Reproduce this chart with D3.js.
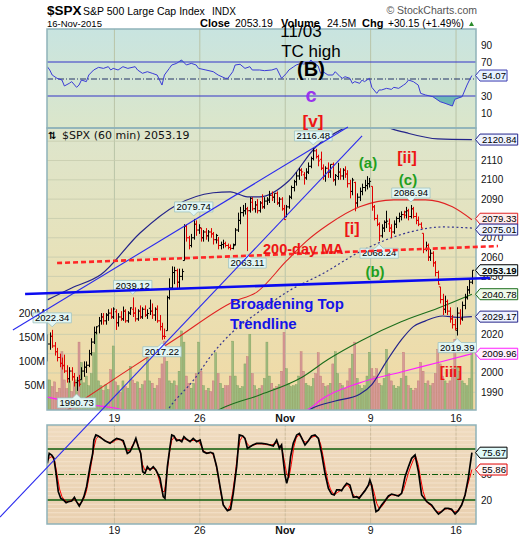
<!DOCTYPE html>
<html><head><meta charset="utf-8">
<script src="https://cdn.jsdelivr.net/npm/d3@7/dist/d3.min.js"></script>
<style>
html,body{margin:0;padding:0;background:#fff;}
svg{display:block;font-family:"Liberation Sans",Arial,sans-serif;}
</style></head><body>
<svg id="chart" width="520" height="540"></svg>
<script>
// ================= DATA =================
const xTickLabels = ["19","26","Nov","9","16"];
const xTickBars   = [28,63,98,133,168];   // first hourly bar of each labelled week
const priceTicks  = [1990,2000,2010,2020,2030,2040,2050,2060,2070,2080,2090,2100,2110,2120];
const volTicks    = [50,100,150,200];     // millions
const rsiTicks    = [10,30,50,70,90];
const stoTicks    = [20,50,80];

// hourly OHLC, 7 bars per session (13-Oct-2015 .. 16-Nov-2015)
const barOpen = [
 2013,2015,2019,2014,2011,2008,2005,
 2004,2001,1997,2001,1998,1995,1996,
 1996.5,2001,2003,2004,2010,2016,2021,
 2024.4,2027,2029,2027,2030,2031,2029,
 2031.7,2026,2029,2028,2032,2027,2031,
 2033,2031,2028,2032,2029,2033,2030,
 2033.5,2032,2030,2033,2027,2024,2019,
 2021.9,2039,2044,2052,2053,2047,2050,
 2058.2,2076,2070,2066,2070,2077,2074,
 2075,2070,2073,2071,2073,2072,2069,
 2068.8,2066,2066.5,2067,2066,2065,2064.5,
 2066.5,2074,2079,2083,2084,2085,2084,
 2088.4,2085,2087,2084,2088,2086,2089,
 2090,2092,2091,2093,2088,2090,2085,
 2080.8,2086,2091,2096,2099,2102,2105,
 2102.6,2101,2104,2107,2111,2115,2112,
 2110.6,2106,2102,2106,2104,2108,2100,
 2101.7,2104,2102,2105,2103,2098,2094,
 2098.6,2088,2091,2094,2096,2097,2098,
 2096.6,2086,2080,2077,2071,2075,2078,
 2077.2,2075,2073,2077,2080,2081,2082,
 2083.4,2084,2081,2085,2081,2079,2077,
 2072.3,2064,2066,2060,2062,2057,2052,
 2044.6,2038,2033,2037,2032,2028,2025,
 2022.1,2031,2028,2035,2039,2043,2047];
const barHigh = [
 2020,2021,2022.34,2016,2013,2010,2008,
 2009.5,2004,2003,2003,2000,1998,1999,
 2003,2006,2006,2012,2018,2024,2024.2,
 2029,2031,2031,2031,2033,2033.5,2034,
 2033,2031,2032,2034.4,2033,2032,2034,
 2039.12,2034,2033,2035,2034,2035,2033,
 2038,2036,2034,2035,2030,2026,2023,
 2040,2049,2055.2,2055,2054,2054,2054,
 2077,2077,2071,2072,2079.74,2079,2077,
 2075.1,2074,2075,2074,2075,2073,2072,
 2070.4,2068,2069,2068,2067,2066.5,2067,
 2075,2083,2086,2087,2088,2086,2091,
 2091,2089,2090,2089,2092.5,2091,2091,
 2094.3,2094,2093,2094,2091,2091,2087,
 2087,2092,2097,2100,2104,2106.2,2106,
 2104,2106,2109,2112,2116.48,2116,2113,
 2114.6,2108,2107,2109,2108,2109,2103,
 2108.8,2106,2106,2107,2105,2100,2101,
 2099,2093,2096,2098,2100,2101.9,2101,
 2096.6,2087,2082,2078,2077,2079,2084,
 2080,2077,2079,2081,2083,2083.7,2084,
 2086,2085,2086.94,2086,2083,2081,2078,
 2072.3,2068,2067,2064,2063,2058,2053,
 2044.6,2041,2040,2038,2034,2030,2028,
 2034,2033,2037,2041,2045,2049,2053.2];
const barLow = [
 2006,2012,2013,2009,2006,2003,2001.8,
 2000,1995,1995,1996,1993,1990.73,1993,
 1996.5,1998,2000,2003,2009,2015,2020,
 2020.5,2025,2025,2025,2027,2028,2028,
 2022.3,2024,2027,2027,2026,2026,2030,
 2029,2026.6,2027,2028,2028,2029,2028,
 2030,2028,2027,2026,2022,2017.22,2017.5,
 2021.9,2038,2043,2046,2044,2044,2048,
 2058.2,2068,2064,2065,2069,2071,2072,
 2068,2068,2069,2068,2070,2066.5,2067,
 2064,2064,2064.5,2065,2064,2063.5,2064,
 2066,2073,2077,2081,2082,2063.11,2083,
 2084,2083,2082.6,2083,2085,2085,2087,
 2088,2089,2088,2087,2086,2084,2079.3,
 2080.8,2085,2090,2094,2097,2100,2102,
 2097.5,2100,2103,2106,2110,2111,2107,
 2105,2100,2099,2101,2101,2099,2097,
 2100,2100,2100,2101,2096,2090.4,2092,
 2083.7,2086,2089,2092,2094,2095,2096,
 2084,2079,2076,2068.24,2070,2073,2075,
 2073,2069.9,2072,2075,2078,2079,2080,
 2080,2079,2080,2080,2077,2076,2074.9,
 2062,2063,2058,2058,2055,2050,2045.7,
 2036,2030,2031,2030,2026,2023,2022,
 2019.39,2025,2027,2033,2038,2041,2046];
const barClose = [
 2015,2019,2014,2011,2008,2005,2003.7,
 2001,1997,2001,1998,1995,1996,1994.2,
 2001,2003,2004,2010,2016,2021,2023.9,
 2027,2029,2027,2030,2031,2029,2033.1,
 2026,2029,2028,2032,2027,2031,2033.7,
 2031,2028,2032,2029,2033,2030,2030.8,
 2032,2030,2033,2027,2024,2019,2018.9,
 2039,2044,2052,2053,2047,2050,2052.5,
 2076,2070,2066,2070,2077,2074,2075.2,
 2070,2073,2071,2073,2072,2069,2071.2,
 2066,2066.5,2067,2066,2065,2064.5,2065.9,
 2074,2079,2083,2084,2085,2084,2090.4,
 2085,2087,2084,2088,2086,2089,2089.4,
 2092,2091,2093,2088,2090,2085,2079.4,
 2086,2091,2096,2099,2102,2105,2104.1,
 2101,2104,2107,2111,2115,2112,2109.8,
 2106,2102,2106,2104,2108,2100,2102.3,
 2104,2102,2105,2103,2098,2094,2099.9,
 2088,2091,2094,2096,2097,2098,2099.2,
 2086,2080,2077,2071,2075,2078,2078.6,
 2075,2073,2077,2080,2081,2082,2081.7,
 2084,2081,2085,2081,2079,2077,2075,
 2064,2066,2060,2062,2057,2052,2046,
 2038,2033,2037,2032,2028,2025,2023,
 2031,2028,2035,2039,2043,2047,2053.19];
// hourly volume, millions
const barVolume = [
 62,62,48,58,36,45,120,
 62,44,60,38,58,62,140,
 98,56,70,50,75,118,160,
 60,50,40,52,42,83,132,
 58,50,36,60,48,45,90,
 62,55,58,45,52,60,111,
 60,55,45,50,65,95,142,
 100,60,55,60,50,80,163,
 140,70,55,45,55,75,140,
 80,50,40,45,38,60,118,
 75,55,45,50,50,70,142,
 70,50,45,48,95,110,156,
 75,50,42,45,50,65,140,
 70,55,45,48,52,80,160,
 85,55,48,50,52,70,120,
 80,55,50,48,65,75,118,
 70,55,48,50,55,95,120,
 75,55,50,45,60,85,115,
 140,65,50,45,50,70,119,
 85,70,85,55,50,65,125,
 75,60,50,45,48,65,119,
 70,50,45,40,45,60,98,
 80,55,60,50,55,75,125,
 95,70,60,55,60,85,146,
 90,80,60,55,50,65,129];

// swing high/low labels: bar index and which end of the bar
const swingIdx  = [2,12,35,47,60,82,109,136,149,168];
const swingType = ["high","low","high","low","high","low","high","low","high","low"];

// overlays (bar index, value)
const upperBandIdx = [0,10,22,38,53,68,75,82,87,99,110,122,130,136,140,147,160,174];
const upperBandVal = [2037.8,2044,2051,2072.5,2087,2093.3,2093.8,2091.2,2091.2,2099.5,2117,2127,2131,2130,2127,2124.4,2121.2,2120.84];
const midBandIdx = [44,50,60,68,76,85,99,113,128,149,162,174];
const midBandVal = [1970,1982,1996.4,2010.4,2021.3,2030.1,2042.5,2051.5,2062.7,2073.1,2075.6,2075.01];
const lowerBandIdx = [100,109,118,128,133,139,145,150,155,162,168,174];
const lowerBandVal = [1974,1982,1985.5,1989,1994,2006,2017,2024,2027,2029.5,2028.8,2029.17];
const maRedIdx = [5,30,53,76,86,98,106,115,128,142,155,166,174];
const maRedVal = [1978,1999,2018,2036.8,2042,2058,2068,2076.7,2086,2089.6,2089.6,2086,2079.33];
const maGreenIdx = [66,72,87,104,115,129,145,160,174];
const maGreenVal = [1978,1982,1988.6,1997.5,2007,2017,2026.5,2033.5,2040.78];
const maPinkIdx = [0,13,27,45,70,95,108,112,128,145,161,174];
const maPinkVal = [1987.5,1984.4,1982,1977,1974,1977,1982,1986,1994.9,2000.5,2005.7,2009.96];

// RSI (upper panel)
const rsiIdx = [0,1,2,4,6,7,9,10,12,13,14,16,17,19,21,23,25,26,27,29,31,33,36,37,39,41,43,45,46,47,48,50,51,53,55,57,59,61,62,65,68,70,73,74,76,77,79,81,83,84,87,89,92,94,96,98,99,101,102,104,105,107,108,109,111,112,113,115,117,118,120,121,122,124,125,126,128,129,130,132,133,135,136,137,139,141,142,144,146,147,148,150,152,153,155,158,161,163,166,167,170,172,173,174];
const rsiVal = [64.5,60.6,54.7,50.8,48.8,41.8,44.9,46.9,40.2,42.9,48.8,46.9,54.7,60.6,63.7,62.5,64.5,60.6,62.5,60.6,64.5,62.5,64.5,60.6,56.7,58.6,56.7,54.7,48.8,42.9,54.7,62.5,66.5,68.4,72.4,66.5,68.4,66.5,62.5,60.6,58.6,54.7,50.8,50.8,58.6,66.5,67.3,62.5,64.5,60.6,60.6,59.8,60.6,62.5,50.8,56.7,60.6,64.5,66.5,68.4,67.6,68.4,72.4,69.2,65.3,56.7,58.6,54.7,54.7,58.6,52.7,50.8,52.7,50.8,44.9,46.9,44.9,48.8,46.9,50.8,40.2,33.1,37.1,37.1,39,37.8,40.2,39,42.9,44.9,48.8,46.9,42.9,33.1,31.2,29.2,23.3,21.4,18.2,26.1,29.2,42.9,48.8,54.07];

// Slow stochastic (lower panel): %K black, %D red
const stochKIdx = [0,0.8,1.8,2.7,3.6,4.5,5.5,6.6,7.7,8.6,10,11.1,12,13.1,14.1,15,16.1,17.5,18.6,19.1,19.9,20.9,22.3,23.6,25.7,27,28.4,29.8,31.1,32.8,33.9,35.2,36.3,37.3,38.3,39.1,40,41,42.1,43.4,44.5,46.2,47.5,48.2,49.2,50.3,51,51.9,53,54.1,55.1,56,57.1,58.5,59.8,61.2,62.6,63.9,65.3,66.9,68,69.4,70.8,72.1,73.8,75.1,76.2,77.6,78.7,80.1,81,82,83.1,84.2,85.8,87.8,89.9,92.6,94,95.1,96,97.4,98.1,98.8,99.7,100.8,102.2,103.3,104.6,105.6,107,108.3,109.7,111.1,112.4,113.8,115.2,116.5,117.6,118.6,119.7,120.6,121.6,122.7,124,125.4,126.8,127.8,128.8,130.2,131.6,132.2,132.9,133.6,134.7,135.7,137,138.4,139.8,141.1,142.5,143.9,145.2,146.6,148,149.3,150.7,152.1,153.4,155.5,157.5,158.9,160.3,161.6,163,164.3,165.7,167.1,168.4,169.8,171.2,172.5,174];
const stochKVal = [63.1,74.9,72.9,69,51.4,29.8,22,20,16.9,18,18.8,23.1,18,12.9,18,23.9,35.7,59.2,74.9,90.6,96.5,95.3,92.5,89.8,86.7,89.8,92.5,91.4,89.8,74.9,76.9,84.7,92.5,82.7,74.9,53.3,51.4,59.2,55.3,59.2,55.3,45.5,23.9,22,59.2,82.7,96.5,95.3,89.8,90.6,88.6,94.5,91.4,88.6,92.5,88.6,90.6,76.9,74.9,76.1,74.9,59.2,35.7,14.1,7.5,9,27.8,59.2,96.5,95.3,92.5,80.8,82.7,84.7,86.7,86.7,85.9,83.5,90.6,80.8,84.7,49.4,39.6,47.5,71,86.7,96.5,98.4,90.6,84.7,89.8,95.3,96.5,92.5,74.9,51.4,33.7,27,25.9,31.8,31.8,31,35.7,39.6,37.6,23.1,23.9,22,25.9,31,37.6,43.5,37.6,23.9,6.3,8.2,14.1,19.2,24.7,27,25.9,24.7,27.8,47.5,59.2,69,72.9,53.3,25.9,18,14.1,8.2,3.5,6.3,10.2,10.2,9,3.5,7.5,14.1,25.9,45.5,75.67];
const stochD = [
 66,70,71,66,50,33,24,20,18,18.5,
 20,20.5,18,15,17,22,30,45,62,80,
 92,95,94,91,89,88,88,88,90.5,91,
 91,88,82,78,79,85,89,86,78,62,
 55,56,57,57,57,52,42,30,30,50,
 75,90,94,92,90,91,92,91,90,90,
 90,90,89,84,78,76,75,76,73,64,
 48,30,16,10,8,14,30,50,75,90,
 95,92,86,83,84,85,86,86,86,85.5,
 85,85,85,86,87,85,82,68,52,46,
 62,82,93,96,95,89,88,90,93,94.5,
 95,93,86,72,56,42,33,28,27,29,
 31,33,36,38,34,28,24,23,24,27,
 31,35,38,38,28,16,10,12,16,21,
 24,26,26,25,26,27,32,42,52,60,
 67,71,62,45,30,21,16,14,11,8,
 6,6,7.5,9,10,9,7,6,7,11,
 16,24,35,45,55.86];

// hand-drawn trendlines: [bar index, price] end points
const lineBroadTop = [[-9.1,2040.9],[181.4,2049.2]];
const line200dMA   = [[4,2056.9],[184.7,2065.7]];
const lineWedgeUp  = [[-14.1,2022.25],[123.2,2127.3]];
const lineWedgeLo  = [[-19.4,1925.4],[129,2122.7]];

// ================= DRAWING =================
const svg = d3.select("#chart");
const defs = svg.append("defs");
const L = 47, R = 476;
const P = {top:[29,128], main:[128,410], bot:[425,524]};

const x  = d3.scaleLinear().domain([0,174]).range([47.3,471.9]);
const yP = d3.scaleLinear().domain([1990,2110]).range([392.3,160.5]);
const yV = d3.scaleLinear().domain([0,200]).range([410,313]);
const yR = d3.scaleLinear().domain([0,100]).range([121.5,36.5]);
const yS = d3.scaleLinear().domain([0,100]).range([517,432]);

function grad(id, stops){
  const g = defs.append("linearGradient").attr("id",id).attr("x1",0).attr("y1",0).attr("x2",0).attr("y2",1);
  stops.forEach(([o,c])=>g.append("stop").attr("offset",o).attr("stop-color",c));
}
grad("gTop",[[0,"#c8e4e0"],[1,"#dbe6ca"]]);
grad("gMain",[[0,"#dde5cc"],[0.45,"#e7e2ba"],[1,"#f1d9a3"]]);
grad("gBot",[[0,"#efdbbf"],[1,"#e9d0b0"]]);
function clip(id,k){ defs.append("clipPath").attr("id",id).append("rect").attr("x",L).attr("y",P[k][0]).attr("width",R-L).attr("height",P[k][1]-P[k][0]); }
clip("cTop","top"); clip("cMain","main"); clip("cBot","bot");

[["top","gTop"],["main","gMain"],["bot","gBot"]].forEach(([k,g])=>{
  svg.append("rect").attr("x",L).attr("y",P[k][0]).attr("width",R-L).attr("height",P[k][1]-P[k][0]).attr("fill",`url(#${g})`);
});

const gridX = xTickBars.map(b=>x(b)-1.22);
["top","main","bot"].forEach(k=>{
  svg.append("g").selectAll("line").data(gridX).join("line")
    .attr("x1",d=>d).attr("x2",d=>d).attr("y1",P[k][0]).attr("y2",P[k][1])
    .attr("stroke", k==="bot" ? "#cdbb9c" : "#b9c4a8").attr("stroke-width",1);
});
svg.append("g").selectAll("line").data(priceTicks.filter(v=>yP(v)>P.main[0]+1)).join("line")
  .attr("x1",L).attr("x2",R).attr("y1",d=>yP(d)).attr("y2",d=>yP(d))
  .attr("stroke","#c6cbad").attr("stroke-width",0.8);
svg.append("g").selectAll("line").data(d3.range(0,106,5).filter(v=>![20,50,80].includes(v))).join("line")
  .attr("x1",L).attr("x2",R).attr("y1",d=>yS(d)).attr("y2",d=>yS(d))
  .attr("stroke","#f6e6d0").attr("stroke-width",0.8);

// ---- RSI panel ----
const gT = svg.append("g").attr("clip-path","url(#cTop)");
const rsiPts = rsiIdx.map((d,i)=>[d,rsiVal[i]]);
defs.append("clipPath").attr("id","cBelow30").append("rect").attr("x",L).attr("y",yR(30)).attr("width",R-L).attr("height",P.top[1]-yR(30));
defs.append("clipPath").attr("id","cAbove70").append("rect").attr("x",L).attr("y",P.top[0]).attr("width",R-L).attr("height",yR(70)-P.top[0]);
gT.append("g").attr("clip-path","url(#cBelow30)").append("path")
  .attr("d", d3.area().x(d=>x(d[0])).y0(yR(30)).y1(d=>yR(d[1]))(rsiPts)).attr("fill","#6cb8b6");
gT.append("g").attr("clip-path","url(#cAbove70)").append("path")
  .attr("d", d3.area().x(d=>x(d[0])).y0(yR(70)).y1(d=>yR(d[1]))(rsiPts)).attr("fill","#6cb8b6");
[70,30].forEach(v=>gT.append("line").attr("x1",L).attr("x2",R).attr("y1",yR(v)).attr("y2",yR(v)).attr("stroke","#3434c8").attr("stroke-width",1.2));
gT.append("line").attr("x1",L).attr("x2",R).attr("y1",yR(50)).attr("y2",yR(50)).attr("stroke","#223366").attr("stroke-width",1).attr("stroke-dasharray","6,2,1,2");
gT.append("path").attr("d", d3.line().x(d=>x(d[0])).y(d=>yR(d[1]))(rsiPts)).attr("fill","none").attr("stroke","#3b3bd6").attr("stroke-width",1);

// ---- main panel ----
const gM = svg.append("g").attr("clip-path","url(#cMain)");
const isUp = barClose.map((c,i)=> i===0 ? c>=barOpen[0] : c>=barClose[i-1]);
gM.append("g").selectAll("rect").data(barVolume).join("rect")
  .attr("x",(d,i)=>x(i)-1).attr("width",2)
  .attr("y",d=>yV(d)).attr("height",d=>yV(0)-yV(d))
  .attr("fill",(d,i)=>isUp[i]?"#9fbb7f":"#d59b98")
  .attr("stroke",(d,i)=>isUp[i]?"#7c9c5c":"#c07672").attr("stroke-width",0.4);

function overlay(idx,val,color,width,dash){
  gM.append("path").attr("d", d3.line().curve(d3.curveMonotoneX).x(d=>x(d[0])).y(d=>yP(d[1]))(idx.map((d,i)=>[d,val[i]])))
    .attr("fill","none").attr("stroke",color).attr("stroke-width",width).attr("stroke-dasharray",dash||null);
}
overlay(maPinkIdx,maPinkVal,"#ff1fff",1.2);
overlay(maGreenIdx,maGreenVal,"#1c6e1c",1.1);
overlay(maRedIdx,maRedVal,"#e02222",1.1);
overlay(midBandIdx,midBandVal,"#33338f",1.2,"2,2.5");
overlay(lowerBandIdx,lowerBandVal,"#24248a",1.2);
overlay(upperBandIdx,upperBandVal,"#24248a",1.2);

gM.append("g").selectAll("path").data(barClose).join("path")
  .attr("d",(c,i)=>{
    const xi = Math.round(x(i))+0.5;
    return `M${xi},${yP(barHigh[i])}V${yP(barLow[i])}M${xi-1.6},${yP(barOpen[i])}H${xi}M${xi},${yP(c)}H${xi+1.6}`;
  })
  .attr("fill","none").attr("stroke",(c,i)=>isUp[i]?"#000":"#e00000").attr("stroke-width",1);

// ---- stochastic panel ----
const gB = svg.append("g").attr("clip-path","url(#cBot)");
[80,20].forEach(v=>gB.append("line").attr("x1",L).attr("x2",R).attr("y1",yS(v)).attr("y2",yS(v)).attr("stroke","#0c5c0c").attr("stroke-width",1.3));
gB.append("line").attr("x1",L).attr("x2",R).attr("y1",yS(50)).attr("y2",yS(50)).attr("stroke","#0c5c0c").attr("stroke-width",1).attr("stroke-dasharray","6,2,1,2");
gB.append("path").attr("d", d3.line().x((d,i)=>x(i)).y(d=>yS(d))(stochD)).attr("fill","none").attr("stroke","#ff0000").attr("stroke-width",1);
gB.append("path").attr("d", d3.line().x(d=>x(d[0])).y(d=>yS(d[1]))(stochKIdx.map((d,i)=>[d,stochKVal[i]]))).attr("fill","none").attr("stroke","#000").attr("stroke-width",1.7);

["top","main","bot"].forEach(k=>{
  svg.append("rect").attr("x",L).attr("y",P[k][0]).attr("width",R-L).attr("height",P[k][1]-P[k][0])
    .attr("fill","none").attr("stroke","#8fb2b9").attr("stroke-width",1.5);
});

// ---- right-side value tags (positions) ----
const last = a=>a[a.length-1];
const tags = [
  [yR(last(rsiVal)), last(rsiVal), "#3a3ab0", "#e6f2ff", false],
  [yP(last(upperBandVal)), last(upperBandVal), "#24248a", "#eef3ff", false],
  [yP(last(maRedVal))-1, last(maRedVal), "#e02222", "#ffecec", false],
  [yP(last(midBandVal))+1.5, last(midBandVal), "#24248a", "#eef3ff", false],
  [yP(last(barClose)), last(barClose), "#000", "#effafa", true],
  [yP(last(maGreenVal)), last(maGreenVal), "#1c6e1c", "#eefaea", false],
  [yP(last(lowerBandVal)), last(lowerBandVal), "#24248a", "#eef3ff", false],
  [yP(last(maPinkVal)), last(maPinkVal), "#ff1fff", "#fff0ff", false],
  [yS(last(stochKVal)), last(stochKVal), "#000", "#dffafa", false],
  [yS(last(stochD)), last(stochD), "#e00000", "#fff6f6", false]
];
const tagYs = tags.map(t=>t[0]);
const hidden = yy => tagYs.some(t=>Math.abs(t-yy)<4.5);

// axes labels
const axisFont = 10;
function rightLabels(vals, scale){
  svg.append("g").selectAll("text").data(vals.filter(v=>!hidden(scale(v)))).join("text")
    .attr("x",481).attr("y",d=>scale(d)).attr("dy","0.35em").attr("font-size",axisFont).attr("fill","#111").text(d=>d);
}
rightLabels(priceTicks, yP);
rightLabels(rsiTicks, yR);
rightLabels(stoTicks, yS);
svg.append("g").selectAll("text").data(volTicks).join("text")
  .attr("x",45).attr("y",d=>yV(d)).attr("dy","0.35em").attr("text-anchor","end").attr("font-size",10.5).attr("fill","#111").text(d=>d+"M");
[422,534].forEach(yy=>{
  svg.append("g").selectAll("text").data(xTickLabels).join("text")
    .attr("x",(d,i)=>gridX[i]).attr("y",yy).attr("text-anchor","middle")
    .attr("font-size",10.5).attr("font-weight",d=>d==="Nov"?"bold":null).attr("fill","#111").text(d=>d);
});

function rightTag(yv, val, stroke, fill, bold){
  const g = svg.append("g");
  const t = g.append("text").attr("x",482).attr("y",yv).attr("dy","0.35em").attr("font-size",9.6)
    .attr("font-weight",bold?"bold":null).attr("fill","#000").text(val.toFixed(2));
  const w = Math.min(t.node().getComputedTextLength()+3, 38.5), h=11, bx=480, y0=yv-h/2;
  g.insert("path","text").attr("d",`M475.5,${yv}L${bx},${y0}H${bx+w}V${y0+h}H${bx}Z`)
    .attr("fill",fill).attr("stroke",stroke).attr("stroke-width",1);
}
tags.forEach(t=>rightTag(...t));

// swing labels in the plot
swingIdx.forEach((bi,k)=>{
  const hi = swingType[k]==="high";
  const v = hi ? barHigh[bi] : barLow[bi];
  const xc = x(bi), tip = yP(v) + (hi ? -3 : 3);
  const g = svg.append("g");
  const t = g.append("text").attr("x",xc).attr("text-anchor","middle").attr("font-size",9.5).attr("fill","#000").text(v.toFixed(2));
  const w = t.node().getComputedTextLength()+4, h = 10;
  const by = hi ? tip-4-h : tip+4;
  t.attr("y", by+h/2).attr("dy","0.35em");
  const p = hi
    ? `M${xc-w/2},${by}H${xc+w/2}V${by+h}H${xc+4}L${xc},${tip}L${xc-4},${by+h}H${xc-w/2}Z`
    : `M${xc-w/2},${by}H${xc-4}L${xc},${tip}L${xc+4},${by}H${xc+w/2}V${by+h}H${xc-w/2}Z`;
  g.insert("path","text").attr("d",p).attr("fill","#e2f6f4").attr("stroke","#9ec3c2").attr("stroke-width",0.8);
});

// legend of main panel
svg.append("text").attr("x",48).attr("y",139).attr("font-size",10).attr("font-family","DejaVu Sans").attr("font-weight","bold").text("⇅");
svg.append("text").attr("x",62).attr("y",139).attr("font-size",11).attr("font-family","DejaVu Sans").attr("fill","#111").text("$SPX (60 min) 2053.19");

// header
function txt(s,xx,yy,size,opt={}){
  return svg.append("text").attr("x",xx).attr("y",yy).attr("font-size",size)
    .attr("font-weight",opt.bold?"bold":null).attr("fill",opt.fill||"#000")
    .attr("text-anchor",opt.anchor||"start").text(s);
}
txt("$SPX",47,15,13.5,{bold:true});
txt("S&P 500 Large Cap Index",83,15,10.5);
txt("INDX",212,15,10);
txt("© StockCharts.com",477,14,10.5,{fill:"#555",anchor:"end"});
txt("16-Nov-2015",47,26.5,9.5);
txt("Close",200,26.5,11,{bold:true});
txt("2053.19",235,26.5,10.5);
txt("Volume",281,26.5,11,{bold:true});
txt("24.5M",327,26.5,10.5);
txt("Chg",362,26.5,11,{bold:true});
txt("+30.15 (+1.49%)",388,26.5,10.2);
svg.append("path").attr("d","M469,26L471.5,21.5L474,26Z").attr("fill","#2c8c2c");

// hand-drawn trendlines
function tline(pts,color,width,dash){
  svg.append("line").attr("x1",x(pts[0][0])).attr("y1",yP(pts[0][1])).attr("x2",x(pts[1][0])).attr("y2",yP(pts[1][1]))
    .attr("stroke",color).attr("stroke-width",width).attr("stroke-dasharray",dash||null);
}
tline(lineWedgeUp,"#2a2aee",1.1);
tline(lineWedgeLo,"#2a2aee",1.1);
tline(lineBroadTop,"#0b0bf0",2.6);
tline(line200dMA,"#ff2626",2.6,"5,3");

// annotation texts
const notes = [
 ["11/03",301,37,17,false,"#000","middle"],
 ["TC high",311,57,17,false,"#000","middle"],
 ["(B)",311,76,20,true,"#000","middle"],
 ["c",311,102,20,true,"#9a33ee","middle"],
 ["[v]",313,127,17,true,"#ee1414","middle"],
 ["(a)",368,168,15,true,"#1f9f1f","middle"],
 ["[ii]",407,163,16,true,"#ee1414","middle"],
 ["(c)",408,185,15,true,"#1f9f1f","middle"],
 ["[i]",352,234,16,true,"#ee1414","middle"],
 ["200-day MA",263,254,14.5,true,"#ee1414","start"],
 ["(b)",375,277,15,true,"#1f9f1f","middle"],
 ["Broadening Top",230,309,15,true,"#1414e8","start"],
 ["Trendline",230,329,15,true,"#1414e8","start"],
 ["[iii]",451,377,15,true,"#ee1414","middle"]
];
notes.forEach(([s,xx,yy,sz,b,c,a])=>txt(s,xx,yy,sz,{bold:b,fill:c,anchor:a}));
</script>
</body></html>
